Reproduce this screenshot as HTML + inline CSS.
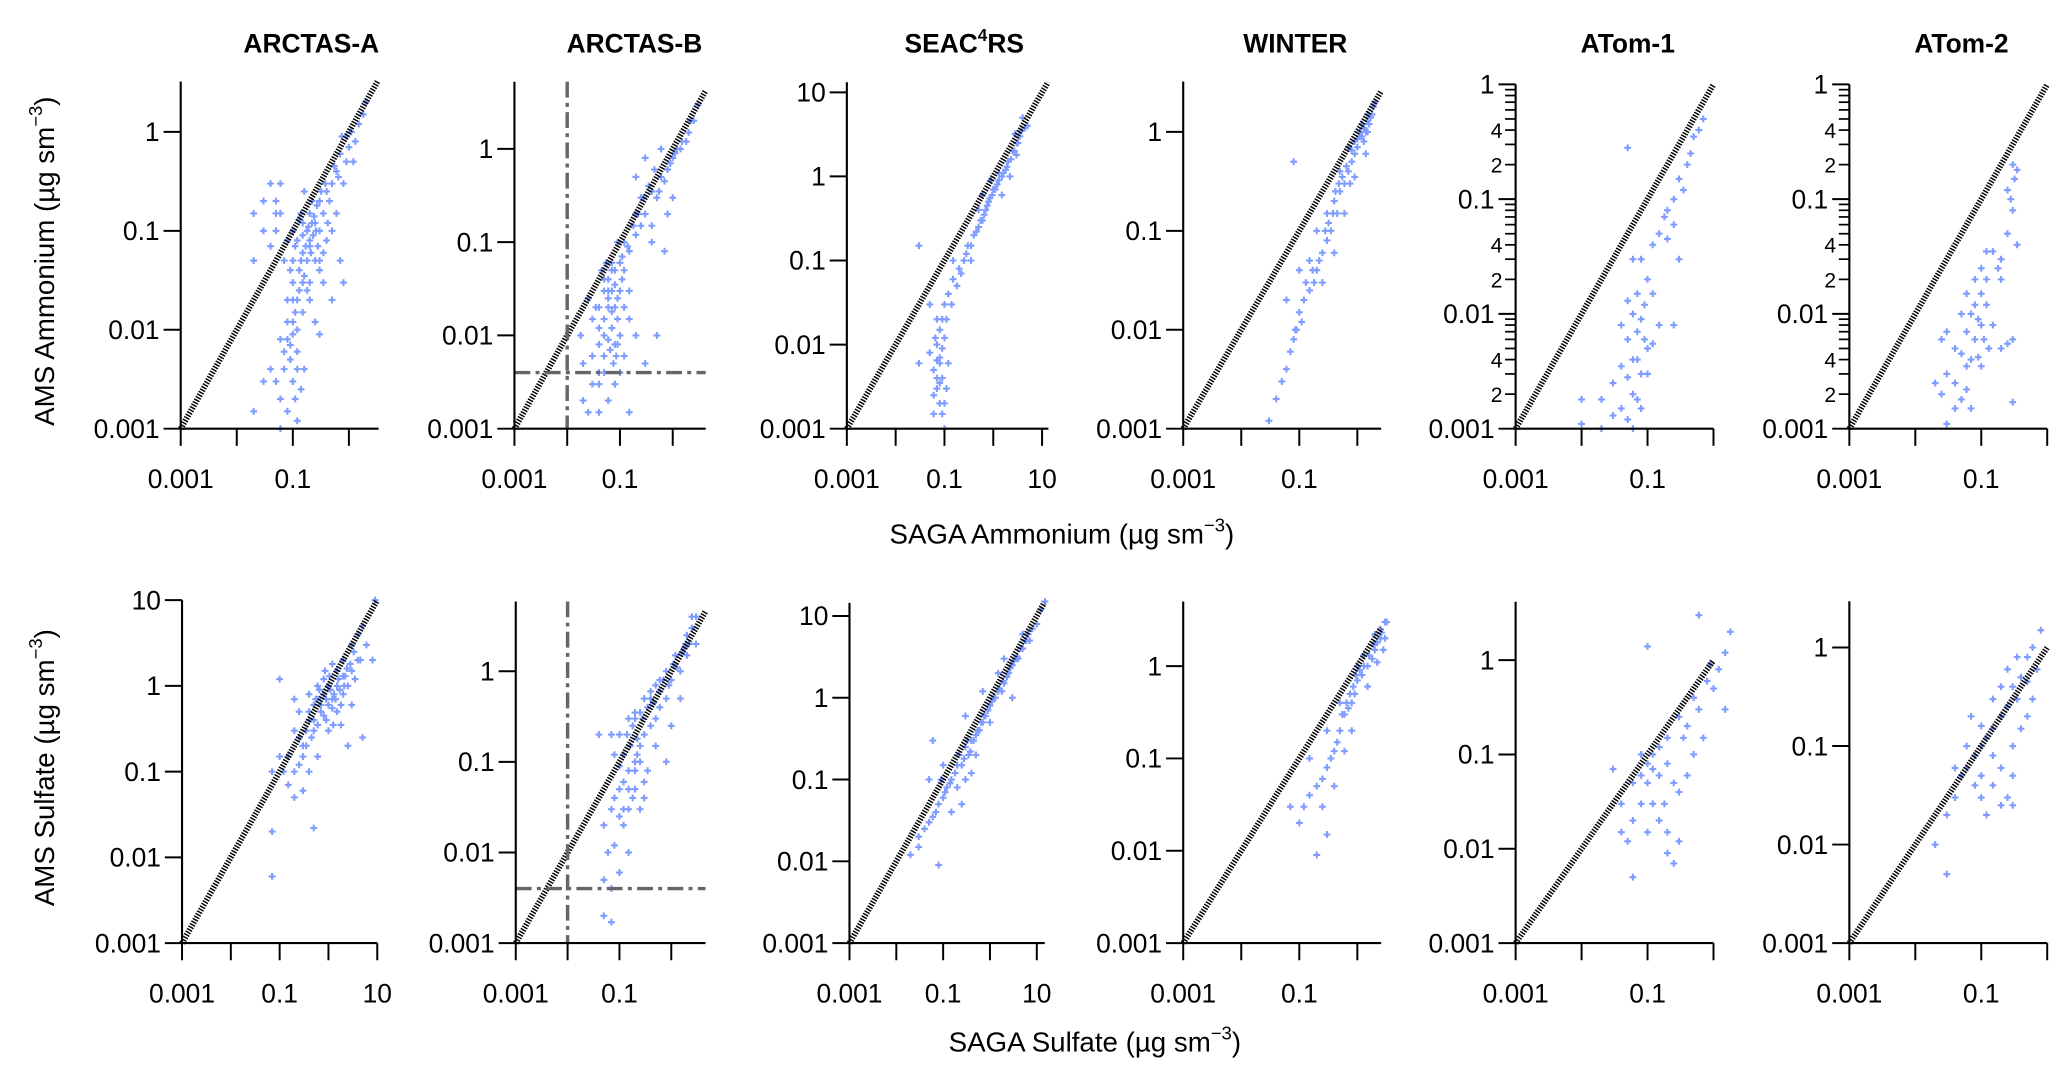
<!DOCTYPE html>
<html><head><meta charset="utf-8">
<style>
html,body{margin:0;padding:0;background:#fff;}
svg{display:block;font-family:"Liberation Sans",Arial,sans-serif;}
</style></head>
<body>
<svg id="fig" width="2067" height="1075" viewBox="0 0 1567 815" preserveAspectRatio="none" xmlns="http://www.w3.org/2000/svg">
<g font-weight="bold" font-size="20" text-anchor="middle">
<text x="236" y="40">ARCTAS-A</text>
<text x="481" y="40">ARCTAS-B</text>
<text x="731" y="40">SEAC<tspan dy="-9" font-size="13">4</tspan><tspan dy="9">RS</tspan></text>
<text x="982" y="40">WINTER</text>
<text x="1234" y="40">ATom-1</text>
<text x="1487" y="40">ATom-2</text>
</g>
<text font-size="21" text-anchor="middle" transform="translate(41,198) rotate(-90)">AMS Ammonium (µg sm<tspan dy="-9" font-size="14">−3</tspan><tspan dy="9">)</tspan></text>
<text font-size="21" text-anchor="middle" transform="translate(41,582) rotate(-90)">AMS Sulfate (µg sm<tspan dy="-9" font-size="14">−3</tspan><tspan dy="9">)</tspan></text>
<text font-size="21" text-anchor="middle" x="805" y="412">SAGA Ammonium (µg sm<tspan dy="-9" font-size="14">−3</tspan><tspan dy="9">)</tspan></text>
<text font-size="21" text-anchor="middle" x="830" y="797">SAGA Sulfate (µg sm<tspan dy="-9" font-size="14">−3</tspan><tspan dy="9">)</tspan></text>
<g id="panels"></g>
</svg>
<script>
// ---- data (µg sm-3): SAGA (x) vs AMS (y) ----
const arctasA_nh4_x=[2,1.8,1.5,1.3,1,0.9,0.7,0.8,0.6,0.5,0.45,0.4,0.35,0.3,0.3,0.25,0.2,0.2,0.18,0.15,0.15,0.12,0.1,0.1,0.25,0.3,0.2,0.15,0.12,0.1,0.08,0.35,0.4,0.5,0.22,0.18,0.13,0.28,0.07,0.05,0.03,0.02,0.02,0.05,0.04,0.06,0.08,0.1,0.08,0.12,0.15,0.2,0.09,0.07,0.1,0.12,0.06,0.05,0.03,0.02,0.12,0.08,0.06,0.3,0.7,0.8,0.5,0.25,0.04,0.11,0.14,0.16,0.6,1.1,0.9];
const arctasA_nh4_y=[2,1.5,1.2,0.8,0.7,0.5,0.6,0.3,0.4,0.3,0.2,0.25,0.15,0.2,0.1,0.12,0.15,0.08,0.1,0.06,0.12,0.08,0.05,0.1,0.05,0.04,0.03,0.03,0.02,0.03,0.02,0.06,0.08,0.1,0.2,0.05,0.04,0.07,0.05,0.1,0.2,0.15,0.05,0.2,0.3,0.15,0.08,0.012,0.008,0.01,0.015,0.02,0.005,0.004,0.003,0.006,0.002,0.003,0.003,0.0015,0.0012,0.0015,0.001,0.009,0.05,0.03,0.02,0.012,0.004,0.002,0.15,0.25,0.15,1,0.9];
const arctasA_nh4_x2=[0.15,0.17,0.19,0.21,0.23,0.26,0.14,0.16,0.18,0.13,0.11,0.24,0.27,0.32,0.38,0.42,0.55,0.65,0.75,1.2,0.09,0.1,0.11,0.13,0.09,0.1,0.08,0.07,0.06,0.05,0.04,0.06,0.03,0.12,0.14,0.16,0.2,0.22,0.3,0.35];
const arctasA_nh4_y2=[0.09,0.07,0.11,0.06,0.09,0.1,0.05,0.035,0.025,0.13,0.07,0.14,0.18,0.25,0.3,0.12,0.45,0.35,0.9,0.5,0.04,0.02,0.015,0.025,0.007,0.009,0.012,0.006,0.008,0.15,0.07,0.3,0.1,0.004,0.0025,0.004,0.07,0.12,0.05,0.03];
const arctasB_nh4_x=[3,2.5,2,1.5,1.2,1,0.8,0.6,0.5,0.4,0.3,0.25,0.2,0.3,0.2,0.4,0.15,0.12,0.1,0.08,0.06,0.05,0.04,0.03,0.1,0.12,0.08,0.07,0.05,0.04,0.03,0.02,0.06,0.09,0.15,0.11,0.07,0.05,0.04,0.03,0.02,0.025,0.04,0.06,0.08,0.1,0.12,0.09,0.15,0.2,0.3,0.5,0.15,0.7,1,0.8,0.2,0.018,0.025];
const arctasB_nh4_y=[3,2,1.5,1.2,1,0.8,0.6,0.5,0.3,0.35,0.2,0.15,0.12,0.8,0.5,0.1,0.08,0.1,0.06,0.05,0.04,0.03,0.02,0.015,0.03,0.02,0.02,0.012,0.01,0.008,0.006,0.005,0.025,0.015,0.03,0.04,0.03,0.006,0.004,0.003,0.002,0.0015,0.0015,0.002,0.003,0.004,0.006,0.008,0.015,0.01,0.005,0.01,0.0015,0.08,0.3,0.2,0.2,0.01,0.025];
const arctasB_nh4_x2=[0.05,0.06,0.07,0.08,0.09,0.06,0.07,0.05,0.04,0.08,0.1,0.11,0.09,0.07,0.06,0.05,0.04,0.035,0.045,0.055,0.065,0.075,0.085,0.12,0.14,0.18,0.22,0.28,0.35,0.45,0.55,0.7,0.9,1.1,1.4,1.8,2.2,0.25,0.4,0.6];
const arctasB_nh4_y2=[0.04,0.03,0.05,0.035,0.025,0.02,0.018,0.015,0.012,0.008,0.01,0.07,0.1,0.06,0.009,0.004,0.003,0.02,0.05,0.06,0.007,0.005,0.006,0.05,0.09,0.15,0.2,0.3,0.4,0.6,0.35,0.45,0.7,0.9,1,1.2,2,0.3,0.15,1];
const seac_nh4_x=[4,3.5,3,2.5,2,1.8,1.5,1.2,1,0.8,0.7,0.6,0.5,0.4,0.3,0.25,0.2,0.15,0.12,0.1,0.09,0.08,0.07,0.08,0.06,0.09,0.07,0.08,0.06,0.1,0.05,0.1,0.12,0.11,2.2,3,1.3,0.9,0.5,0.03,0.03,0.35,0.15,1.5,5,2.8,0.6,0.07,0.05];
const seac_nh4_y=[5,3,2.5,2,1.5,1.2,1,0.8,0.7,0.5,0.4,0.3,0.25,0.2,0.15,0.1,0.08,0.06,0.04,0.03,0.02,0.015,0.01,0.007,0.005,0.004,0.003,0.002,0.0015,0.001,0.008,0.012,0.006,0.003,1,1.8,1.1,0.9,0.4,0.15,0.006,0.1,0.1,0.6,4,3.2,0.6,0.02,0.03];
const seac_nh4_x2=[0.35,0.45,0.55,0.65,0.75,0.85,0.95,1.1,1.3,1.6,1.9,2.3,2.7,3.2,3.8,4.5,0.28,0.22,0.18,0.14,0.11,0.09,0.08,0.07,0.06,0.1,0.09,0.08,0.07,0.065];
const seac_nh4_y2=[0.15,0.22,0.3,0.35,0.45,0.55,0.6,0.7,0.9,1.1,1.3,1.6,2,2.5,3.5,3.8,0.12,0.07,0.05,0.03,0.02,0.009,0.006,0.004,0.0025,0.002,0.0015,0.0035,0.0065,0.012];
const winter_nh4_x=[2,1.8,1.5,1.3,1.2,1,0.9,0.8,0.7,0.6,0.5,0.45,0.4,0.35,0.3,0.25,0.2,0.18,0.15,0.12,0.1,0.09,0.08,0.07,0.06,0.05,0.04,0.03,0.08,0.2,0.3,0.15,0.5,1.5,1.1,0.7,0.6,0.4,0.25,0.1,0.06,1.6,1.4,0.9];
const winter_nh4_y=[2,1.5,1,0.8,1.2,0.7,0.6,0.5,0.4,0.3,0.25,0.15,0.2,0.1,0.08,0.06,0.04,0.03,0.025,0.02,0.015,0.01,0.008,0.006,0.004,0.003,0.002,0.0012,0.5,0.1,0.15,0.05,0.4,1.5,0.9,0.7,0.15,0.06,0.03,0.04,0.02,1.2,0.6,0.35];
const winter_nh4_x2=[0.9,1,1.1,1.2,1.3,1.4,1.5,1.7,1.9,0.8,0.75,0.65,0.55,0.48,0.42,0.38,0.32,0.28,0.22,0.17,0.13,0.11,0.085];
const winter_nh4_y2=[0.8,0.85,1,0.9,1.1,1,1.3,1.4,1.8,0.65,0.3,0.45,0.35,0.3,0.25,0.15,0.12,0.1,0.05,0.04,0.03,0.012,0.01];
const atom1_nh4_x=[0.7,0.6,0.5,0.45,0.4,0.3,0.35,0.25,0.2,0.18,0.15,0.12,0.2,0.25,0.3,0.1,0.05,0.08,0.06,0.07,0.05,0.06,0.08,0.04,0.05,0.07,0.09,0.1,0.12,0.06,0.04,0.05,0.08,0.1,0.03,0.06,0.07,0.04,0.03,0.05,0.01,0.02,0.01,0.06,0.08,0.25,0.15,0.09,0.12,0.07,0.02];
const atom1_nh4_y=[0.5,0.4,0.35,0.25,0.2,0.15,0.12,0.1,0.08,0.07,0.05,0.04,0.045,0.06,0.03,0.02,0.28,0.03,0.03,0.015,0.013,0.01,0.009,0.008,0.006,0.007,0.006,0.005,0.0055,0.004,0.0035,0.0028,0.003,0.003,0.0025,0.002,0.0018,0.0015,0.0013,0.0012,0.0018,0.0018,0.0011,0.001,0.0015,0.008,0.008,0.012,0.015,0.004,0.001];
const atom2_nh4_x=[0.3,0.35,0.32,0.25,0.28,0.3,0.35,0.25,0.2,0.15,0.12,0.18,0.1,0.08,0.12,0.2,0.1,0.06,0.08,0.12,0.09,0.07,0.1,0.15,0.05,0.06,0.08,0.11,0.13,0.2,0.25,0.03,0.025,0.04,0.05,0.07,0.09,0.06,0.1,0.03,0.02,0.04,0.06,0.025,0.05,0.07,0.04,0.03,0.3,0.3];
const atom2_nh4_y=[0.2,0.18,0.15,0.12,0.1,0.08,0.04,0.05,0.03,0.035,0.035,0.025,0.025,0.02,0.02,0.02,0.015,0.015,0.012,0.012,0.009,0.01,0.008,0.008,0.01,0.007,0.006,0.006,0.005,0.005,0.0055,0.007,0.006,0.005,0.0045,0.004,0.0042,0.0035,0.0035,0.003,0.0025,0.0025,0.0022,0.002,0.0018,0.0015,0.0015,0.0011,0.0017,0.006];
const arctasA_so4_x=[9,5,4,6,8,4,3,2,3,2.5,1.5,1,1.2,0.8,0.7,0.5,0.4,0.35,0.3,0.5,0.6,0.25,0.2,0.15,0.1,0.12,0.15,0.2,0.3,0.4,0.6,1,1.5,2,3,1.2,0.8,0.4,0.2,0.1,0.07,0.07,0.07,0.5,2.5,5,1.8,0.9,0.6,1.5,2.2,0.35,0.25];
const arctasA_so4_y=[10,5,4,3,2,2,3,2,1.5,1,1.5,1,0.7,0.8,0.5,0.6,0.4,0.3,0.2,0.3,1,0.5,0.3,0.15,0.15,0.1,0.07,0.05,0.06,0.1,0.15,0.3,0.5,0.8,0.6,1.8,1.2,0.8,0.7,1.2,0.1,0.02,0.006,0.022,0.2,0.25,0.35,0.4,0.7,1,1.3,0.2,0.25];
const arctasA_so4_x2=[0.5,0.7,0.9,1.1,1.3,1.6,2,2.4,2.8,3.3,0.6,0.8,1,1.2,1.4,1.7,2.1,0.45,0.55,0.65,0.85,1.05,1.25,3.5,4.5,0.3,0.4,0.25,0.2,1.8];
const arctasA_so4_y2=[0.4,0.6,0.7,0.9,0.8,1.2,1.3,1.6,1.8,2.5,0.35,0.45,0.6,0.55,0.7,0.9,1,0.25,0.7,0.9,1.5,1.3,0.35,1.2,2,0.15,0.5,0.12,0.1,0.6];
const arctasB_so4_x=[3,2.5,2,2,1.5,1,1.2,0.8,0.6,0.5,0.4,0.3,0.25,0.2,0.15,0.12,0.1,0.08,0.15,0.1,0.08,0.07,0.2,0.3,0.25,0.15,0.12,0.1,0.07,0.05,0.06,0.08,0.15,0.05,0.1,0.07,0.05,0.4,0.6,0.5,0.8,1.5,3,1.8,0.35,0.2,1,0.04,2.5,0.07];
const arctasB_so4_y=[4,3,2.5,1.5,1,0.8,1.5,0.5,0.4,0.3,0.25,0.2,0.15,0.1,0.08,0.06,0.05,0.04,0.3,0.2,0.12,0.2,0.05,0.04,0.03,0.03,0.02,0.025,0.03,0.02,0.01,0.012,0.01,0.005,0.006,0.004,0.002,0.5,0.8,0.15,0.1,0.5,2,1.8,0.08,0.35,0.25,0.2,4,0.0017];
const arctasB_so4_x2=[0.12,0.14,0.16,0.18,0.2,0.22,0.25,0.28,0.3,0.35,0.4,0.45,0.5,0.6,0.7,0.8,0.9,1.1,1.3,1.6,1.9,2.2,0.15,0.2,0.25,0.1,0.3,0.18,0.22,0.12];
const arctasB_so4_y2=[0.12,0.2,0.15,0.25,0.3,0.18,0.35,0.3,0.5,0.4,0.6,0.45,0.7,0.6,0.8,1,0.7,1.2,1.1,1.6,2,2,0.05,0.08,0.1,0.09,0.06,0.04,0.12,0.03];
const seac_so4_x=[15,12,10,8,7,6,5,4,3.5,3,2.5,2,1.8,1.5,1.2,1,0.8,0.7,0.6,0.5,0.4,0.35,0.3,0.25,0.2,0.15,0.12,0.1,0.08,0.07,0.06,0.05,0.04,0.03,0.03,0.02,0.1,0.2,0.3,0.5,1,0.15,0.25,0.4,2,0.05,0.06,0.3,0.08,3,5,1.5,0.7];
const seac_so4_y=[15,12,8,7,5,5,4,3,3,2.5,2,1.5,1.2,1.2,1,0.8,0.6,0.5,0.4,0.35,0.3,0.2,0.25,0.15,0.15,0.1,0.08,0.06,0.05,0.04,0.035,0.03,0.025,0.02,0.015,0.012,0.15,0.08,0.1,0.2,0.5,0.04,0.05,0.12,3,0.1,0.3,0.6,0.009,1,6,2,1.2];
const seac_so4_x2=[0.45,0.55,0.65,0.75,0.9,1.1,1.3,1.6,1.9,2.3,2.7,3.2,3.8,4.5,5.5,6.5,0.18,0.14,0.11,0.09,0.22,0.28,0.33,0.38];
const seac_so4_y2=[0.3,0.4,0.5,0.6,0.7,0.9,1,1.3,1.6,1.8,2.3,2.8,3.2,4,5,6,0.12,0.09,0.07,0.1,0.2,0.18,0.3,0.22];
const winter_so4_x=[3,2.5,2.5,2,1.8,1.5,1.2,1,0.9,0.8,0.7,0.6,0.5,0.45,0.4,0.35,0.3,0.25,0.2,0.15,0.12,0.1,0.07,0.2,0.15,0.3,0.5,1,2,1.5,2.8,1.3,0.8,0.6,0.4,0.25,0.3,3,2.2];
const winter_so4_y=[3,2.5,2,1.5,1.2,1,0.8,0.7,0.5,0.4,0.35,0.3,0.2,0.15,0.12,0.1,0.08,0.06,0.05,0.04,0.03,0.02,0.03,0.009,0.1,0.2,0.4,1,2.2,0.6,1.5,1.3,0.2,0.12,0.05,0.03,0.015,2,1.1];
const winter_so4_x2=[1.1,1.3,1.6,1.9,2.2,2.6,3.2,0.85,0.75,0.65,0.55,0.95];
const winter_so4_y2=[0.9,1,1.3,1.7,1.8,2.3,3,0.6,0.5,0.4,0.3,0.8];
const atom1_so4_x=[1.8,1.5,1.2,1,0.8,0.6,0.5,0.6,0.4,0.3,0.35,0.2,0.15,0.12,0.1,0.08,0.06,0.1,0.15,0.2,0.25,0.3,0.4,0.12,0.08,0.06,0.04,0.05,0.1,0.15,0.2,0.3,0.25,0.06,0.1,0.04,0.18,0.9,1.5,0.7,0.5,0.12,0.08,0.03,0.2];
const atom1_so4_y=[2,1.2,0.8,0.5,0.6,3,0.4,0.3,0.2,0.25,0.15,0.15,0.12,0.1,0.08,0.06,0.05,0.05,0.06,0.08,0.05,0.04,0.06,0.03,0.03,0.02,0.03,0.012,0.015,0.02,0.015,0.012,0.007,0.005,1.4,0.015,0.03,0.9,0.3,0.15,0.1,0.07,0.1,0.07,0.009];
const atom2_so4_x=[0.8,0.6,0.7,0.5,0.4,0.35,0.3,0.25,0.2,0.15,0.12,0.1,0.08,0.06,0.05,0.04,0.03,0.02,0.03,0.1,0.15,0.2,0.3,0.4,0.5,0.6,0.3,0.25,0.15,0.1,0.08,0.12,0.2,0.3,0.07,0.15,0.25,0.35,0.2,0.5,0.1,0.06,0.04];
const atom2_so4_y=[1.5,1,0.6,0.8,0.5,0.3,0.4,0.25,0.2,0.15,0.12,0.1,0.08,0.06,0.05,0.03,0.02,0.01,0.005,0.05,0.08,0.06,0.1,0.15,0.2,0.3,0.05,0.03,0.04,0.03,0.04,0.02,0.025,0.025,0.2,0.3,0.6,0.8,0.4,0.45,0.16,0.1,0.06];

const NS="http://www.w3.org/2000/svg";
const root=document.getElementById('panels');
function mk(tag,attrs,parent){const e=document.createElementNS(NS,tag);for(const k in attrs)e.setAttribute(k,attrs[k]);parent.appendChild(e);return e;}
const LBL={"-3":"0.001","-2":"0.01","-1":"0.1","0":"1","1":"10"};

// panel geometry (layout, not data)
const panels=[
 {n:'arctas-a-ammonium',x0:137,xd:42.5,xmax:0.53,xt:[-3,-2,-1,0],xl:[-3,-1],y0:325,yd:75,ymax:0.51,yt:[-3,-2,-1,0],xs:arctasA_nh4_x.concat(arctasA_nh4_x2),ys:arctasA_nh4_y.concat(arctasA_nh4_y2)},
 {n:'arctas-b-ammonium',x0:390,xd:40,xmax:0.625,xt:[-3,-2,-1,0],xl:[-3,-1],y0:325,yd:70.7,ymax:0.72,yt:[-3,-2,-1,0],det:true,xs:arctasB_nh4_x.concat(arctasB_nh4_x2),ys:arctasB_nh4_y.concat(arctasB_nh4_y2)},
 {n:'seac4rs-ammonium',x0:642,xd:37,xmax:1.13,xt:[-3,-2,-1,0,1],xl:[-3,-1,1],y0:325,yd:63.75,ymax:1.12,yt:[-3,-2,-1,0,1],xs:seac_nh4_x.concat(seac_nh4_x2),ys:seac_nh4_y.concat(seac_nh4_y2)},
 {n:'winter-ammonium',x0:897,xd:44,xmax:0.41,xt:[-3,-2,-1,0],xl:[-3,-1],y0:325,yd:75,ymax:0.51,yt:[-3,-2,-1,0],xs:winter_nh4_x.concat(winter_nh4_x2),ys:winter_nh4_y.concat(winter_nh4_y2)},
 {n:'atom-1-ammonium',x0:1149,xd:50,xmax:0,xt:[-3,-2,-1,0],xl:[-3,-1],y0:325,yd:87,ymax:0,yt:[-3,-2,-1,0],minor:true,xs:atom1_nh4_x,ys:atom1_nh4_y},
 {n:'atom-2-ammonium',x0:1402,xd:50,xmax:0,xt:[-3,-2,-1,0],xl:[-3,-1],y0:325,yd:87,ymax:0,yt:[-3,-2,-1,0],minor:true,xs:atom2_nh4_x,ys:atom2_nh4_y},
 {n:'arctas-a-sulfate',x0:138,xd:37,xmax:1.0,xt:[-3,-2,-1,0,1],xl:[-3,-1,1],y0:715,yd:65,ymax:1.0,yt:[-3,-2,-1,0,1],xs:arctasA_so4_x.concat(arctasA_so4_x2),ys:arctasA_so4_y.concat(arctasA_so4_y2)},
 {n:'arctas-b-sulfate',x0:391,xd:39.3,xmax:0.66,xt:[-3,-2,-1,0],xl:[-3,-1],y0:715,yd:68.7,ymax:0.77,yt:[-3,-2,-1,0],det:true,xs:arctasB_so4_x.concat(arctasB_so4_x2),ys:arctasB_so4_y.concat(arctasB_so4_y2)},
 {n:'seac4rs-sulfate',x0:644,xd:35.5,xmax:1.17,xt:[-3,-2,-1,0,1],xl:[-3,-1,1],y0:715,yd:62,ymax:1.16,yt:[-3,-2,-1,0,1],xs:seac_so4_x.concat(seac_so4_x2),ys:seac_so4_y.concat(seac_so4_y2)},
 {n:'winter-sulfate',x0:897,xd:44,xmax:0.41,xt:[-3,-2,-1,0],xl:[-3,-1],y0:715,yd:70,ymax:0.7,yt:[-3,-2,-1,0],xs:winter_so4_x.concat(winter_so4_x2),ys:winter_so4_y.concat(winter_so4_y2)},
 {n:'atom-1-sulfate',x0:1149,xd:50,xmax:0,xt:[-3,-2,-1,0],xl:[-3,-1],y0:715,yd:71.5,ymax:0.62,yt:[-3,-2,-1,0],xs:atom1_so4_x,ys:atom1_so4_y},
 {n:'atom-2-sulfate',x0:1402,xd:50,xmax:0,xt:[-3,-2,-1,0],xl:[-3,-1],y0:715,yd:74.7,ymax:0.47,yt:[-3,-2,-1,0],xs:atom2_so4_x,ys:atom2_so4_y}
];

panels.forEach(p=>{
 const g=mk('g',{},root);
 
 
 const X=v=>p.x0+(Math.log10(v)+3)*p.xd;
 const Y=v=>p.y0-(Math.log10(v)+3)*p.yd;
 const XL=l=>p.x0+(l+3)*p.xd, YL=l=>p.y0-(l+3)*p.yd;
 const xe=XL(p.xmax), ye=YL(p.ymax);
 const pg=mk('g',{stroke:'#7f9cff','stroke-width':1.6},g);
 
 
 for(let i=0;i<p.xs.length;i++){
  const cx=X(p.xs[i]),cy=Y(p.ys[i]);
  const pt=mk('path',{d:`M${cx-2.6},${cy}h5.2M${cx},${cy-2.6}v5.2`},pg);
  
  
 }
 const m=Math.min(p.xmax,p.ymax);
 const ol=mk('line',{x1:XL(-3),y1:YL(-3),x2:XL(m),y2:YL(m),stroke:'#000','stroke-width':4.5,'stroke-dasharray':'1.1 1.1'},g);
 
 
 if(p.det){
  const v=mk('line',{x1:XL(-2),y1:ye,x2:XL(-2),y2:p.y0,stroke:'#666','stroke-width':2.6,'stroke-dasharray':'12 4 3 4'},g);
  
  
  const h=mk('line',{x1:p.x0,y1:YL(Math.log10(0.004)),x2:xe,y2:YL(Math.log10(0.004)),stroke:'#666','stroke-width':2.6,'stroke-dasharray':'12 4 3 4'},g);
  
  
 }
 const ax=mk('path',{d:`M${p.x0},${ye}V${p.y0}H${xe}`,fill:'none',stroke:'#000','stroke-width':1.6},g);
 
 
 p.xt.forEach(t=>{
  const tk=mk('line',{x1:XL(t),y1:p.y0,x2:XL(t),y2:p.y0+13,stroke:'#000','stroke-width':1.5},g);
  
  
 });
 p.xl.forEach(t=>{
  const tl=mk('text',{x:XL(t),y:p.y0+45,'font-size':20,'text-anchor':'middle'},g);
  tl.textContent=LBL[t];
  
  
 });
 p.yt.forEach(t=>{
  const tk=mk('line',{x1:p.x0-13,y1:YL(t),x2:p.x0,y2:YL(t),stroke:'#000','stroke-width':1.5},g);
  
  
  const tl=mk('text',{x:p.x0-16,y:YL(t)+7,'font-size':20,'text-anchor':'end'},g);
  tl.textContent=LBL[t];
  
  
 });
 if(p.minor){
  for(let d=-3;d<0;d++){for(let k=2;k<=9;k++){
   const yy=YL(d+Math.log10(k));
   const mt=mk('line',{x1:p.x0-8,y1:yy,x2:p.x0,y2:yy,stroke:'#000','stroke-width':1.3},g);
   
   
   if(k===2||k===4){
    const ml=mk('text',{x:p.x0-10,y:yy+6,'font-size':16,'text-anchor':'end'},g);
    ml.textContent=String(k);
    
    
   }
  }}
 }
});
</script>
</body></html>
